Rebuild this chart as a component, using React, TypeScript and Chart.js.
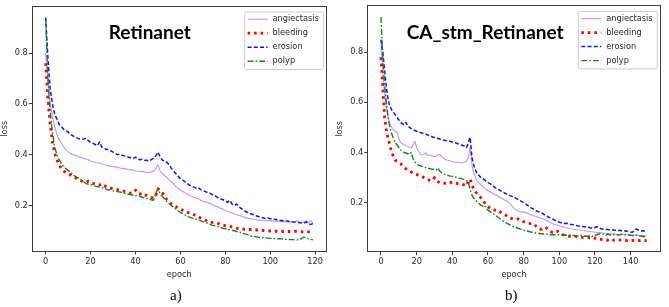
import { useEffect, useRef } from "react";
import { Chart, registerables } from "chart.js";

Chart.register(...registerables);

// ---------- DATA ----------
const seriesNames = ["angiectasis", "bleeding", "erosion", "polyp"];

// Panel a) Retinanet, epochs 0..119
const retAngiectasis = [
  0.80, 0.70, 0.60, 0.55, 0.51, 0.48, 0.46, 0.445, 0.43, 0.42,
  0.41, 0.405, 0.40, 0.398, 0.395, 0.39, 0.388, 0.385, 0.382, 0.38,
  0.375, 0.372, 0.37, 0.366, 0.368, 0.362, 0.36, 0.358, 0.356, 0.354,
  0.353, 0.352, 0.35, 0.348, 0.345, 0.346, 0.343, 0.341, 0.342, 0.339,
  0.336, 0.335, 0.333, 0.334, 0.331, 0.33, 0.33, 0.332, 0.335, 0.345,
  0.36, 0.335, 0.325, 0.318, 0.31, 0.30, 0.292, 0.285, 0.275, 0.268,
  0.26, 0.255, 0.25, 0.245, 0.24, 0.236, 0.232, 0.228, 0.226, 0.22,
  0.216, 0.214, 0.212, 0.208, 0.205, 0.20, 0.196, 0.192, 0.188, 0.185,
  0.18, 0.176, 0.173, 0.17, 0.166, 0.163, 0.16, 0.158, 0.155, 0.152,
  0.15, 0.148, 0.146, 0.145, 0.143, 0.142, 0.141, 0.14, 0.14, 0.139,
  0.14, 0.138, 0.138, 0.137, 0.138, 0.136, 0.137, 0.135, 0.136, 0.134,
  0.135, 0.133, 0.14, 0.132, 0.134, 0.133, 0.138, 0.132, 0.14, 0.13,
];
const retBleeding = [
  0.76, 0.62, 0.52, 0.45, 0.405, 0.38, 0.36, 0.345, 0.335, 0.33,
  0.326, 0.32, 0.315, 0.31, 0.305, 0.30, 0.296, 0.293, 0.29, 0.295,
  0.29, 0.287, 0.284, 0.282, 0.28, 0.285, 0.278, 0.274, 0.27, 0.268,
  0.266, 0.265, 0.262, 0.26, 0.258, 0.255, 0.253, 0.25, 0.248, 0.25,
  0.26, 0.248, 0.245, 0.248, 0.24, 0.24, 0.237, 0.232, 0.228, 0.24,
  0.266, 0.258, 0.25, 0.235, 0.222, 0.213, 0.205, 0.20, 0.195, 0.19,
  0.187, 0.18, 0.175, 0.172, 0.17, 0.166, 0.163, 0.16, 0.155, 0.15,
  0.146, 0.142, 0.138, 0.134, 0.133, 0.132, 0.13, 0.128, 0.125, 0.122,
  0.12, 0.118, 0.117, 0.115, 0.113, 0.11, 0.108, 0.107, 0.106, 0.106,
  0.105, 0.105, 0.105, 0.104, 0.103, 0.103, 0.102, 0.101, 0.10, 0.10,
  0.099, 0.099, 0.098, 0.098, 0.098, 0.098, 0.097, 0.098, 0.097, 0.097,
  0.097, 0.098, 0.097, 0.097, 0.096, 0.097, 0.097, 0.096, 0.097, 0.097,
];
const retErosion = [
  0.94, 0.78, 0.66, 0.60, 0.56, 0.54, 0.52, 0.51, 0.50, 0.495,
  0.49, 0.48, 0.475, 0.47, 0.465, 0.462, 0.46, 0.462, 0.465, 0.455,
  0.448, 0.445, 0.44, 0.435, 0.45, 0.43, 0.425, 0.42, 0.42, 0.415,
  0.41, 0.405, 0.40, 0.402, 0.398, 0.395, 0.392, 0.39, 0.388, 0.385,
  0.39, 0.383, 0.38, 0.382, 0.378, 0.378, 0.375, 0.38, 0.385, 0.395,
  0.41, 0.39, 0.378, 0.375, 0.37, 0.36, 0.345, 0.335, 0.325, 0.315,
  0.305, 0.30, 0.293, 0.287, 0.28, 0.275, 0.272, 0.268, 0.27, 0.262,
  0.258, 0.255, 0.25, 0.248, 0.243, 0.238, 0.235, 0.228, 0.225, 0.222,
  0.218, 0.212, 0.22, 0.205, 0.20, 0.205, 0.195, 0.188, 0.182, 0.176,
  0.172, 0.168, 0.165, 0.162, 0.158, 0.155, 0.152, 0.15, 0.148, 0.15,
  0.147, 0.148, 0.145, 0.143, 0.142, 0.14, 0.138, 0.14, 0.137, 0.136,
  0.135, 0.134, 0.135, 0.132, 0.131, 0.13, 0.135, 0.128, 0.125, 0.128,
];
const retPolyp = [
  0.93, 0.70, 0.57, 0.49, 0.43, 0.40, 0.38, 0.365, 0.352, 0.345,
  0.338, 0.33, 0.322, 0.315, 0.31, 0.305, 0.298, 0.292, 0.286, 0.283,
  0.282, 0.28, 0.276, 0.274, 0.272, 0.27, 0.268, 0.264, 0.26, 0.262,
  0.258, 0.255, 0.254, 0.253, 0.25, 0.248, 0.246, 0.244, 0.242, 0.24,
  0.238, 0.24, 0.236, 0.232, 0.23, 0.227, 0.225, 0.222, 0.22, 0.245,
  0.266, 0.245, 0.235, 0.225, 0.215, 0.207, 0.20, 0.192, 0.185, 0.178,
  0.172, 0.168, 0.163, 0.158, 0.154, 0.151, 0.148, 0.145, 0.142, 0.14,
  0.136, 0.133, 0.13, 0.126, 0.122, 0.12, 0.118, 0.116, 0.113, 0.11,
  0.108, 0.106, 0.104, 0.102, 0.10, 0.097, 0.095, 0.093, 0.09, 0.087,
  0.084, 0.081, 0.078, 0.077, 0.076, 0.074, 0.073, 0.072, 0.072, 0.071,
  0.07, 0.07, 0.069, 0.068, 0.069, 0.068, 0.067, 0.066, 0.066, 0.065,
  0.065, 0.064, 0.064, 0.064, 0.07, 0.075, 0.072, 0.068, 0.066, 0.064,
];

// Panel b) CA_stm_Retinanet, epochs 0..149
const caAngiectasis = [
  0.85, 0.72, 0.64, 0.58, 0.54, 0.515, 0.50, 0.49, 0.485, 0.48,
  0.455, 0.44, 0.435, 0.432, 0.428, 0.425, 0.42, 0.418, 0.43, 0.445,
  0.42, 0.405, 0.395, 0.39, 0.392, 0.398, 0.39, 0.388, 0.39, 0.385,
  0.383, 0.385, 0.39, 0.392, 0.384, 0.378, 0.372, 0.37, 0.368, 0.366,
  0.364, 0.362, 0.36, 0.362, 0.36, 0.358, 0.36, 0.362, 0.365, 0.38,
  0.42, 0.35, 0.32, 0.30, 0.285, 0.278, 0.272, 0.265, 0.258, 0.252,
  0.248, 0.244, 0.24, 0.236, 0.232, 0.228, 0.224, 0.22, 0.216, 0.212,
  0.208, 0.205, 0.198, 0.19, 0.182, 0.175, 0.17, 0.166, 0.164, 0.163,
  0.162, 0.16, 0.158, 0.155, 0.152, 0.15, 0.147, 0.145, 0.142, 0.14,
  0.138, 0.135, 0.132, 0.128, 0.124, 0.12, 0.117, 0.114, 0.112, 0.11,
  0.108, 0.106, 0.104, 0.102, 0.10, 0.098, 0.096, 0.095, 0.094, 0.093,
  0.092, 0.091, 0.09, 0.089, 0.088, 0.087, 0.086, 0.085, 0.084, 0.083,
  0.082, 0.081, 0.08, 0.08, 0.079, 0.078, 0.078, 0.077, 0.076, 0.076,
  0.075, 0.075, 0.074, 0.074, 0.073, 0.073, 0.072, 0.072, 0.071, 0.071,
  0.07, 0.07, 0.07, 0.072, 0.07, 0.069, 0.07, 0.069, 0.068, 0.068,
];
const caBleeding = [
  0.78, 0.66, 0.54, 0.49, 0.455, 0.43, 0.40, 0.385, 0.37, 0.365,
  0.36, 0.355, 0.348, 0.34, 0.335, 0.33, 0.327, 0.322, 0.318, 0.314,
  0.312, 0.31, 0.307, 0.305, 0.30, 0.296, 0.293, 0.29, 0.287, 0.29,
  0.30, 0.29, 0.283, 0.28, 0.28, 0.278, 0.277, 0.275, 0.278, 0.28,
  0.282, 0.28, 0.278, 0.276, 0.275, 0.274, 0.272, 0.27, 0.267, 0.285,
  0.294, 0.27, 0.255, 0.243, 0.235, 0.228, 0.22, 0.21, 0.20, 0.192,
  0.185, 0.178, 0.174, 0.172, 0.17, 0.172, 0.168, 0.162, 0.158, 0.154,
  0.15, 0.145, 0.14, 0.137, 0.135, 0.134, 0.133, 0.135, 0.13, 0.127,
  0.124, 0.122, 0.12, 0.118, 0.116, 0.115, 0.114, 0.105, 0.098, 0.095,
  0.094, 0.10, 0.102, 0.098, 0.09, 0.085, 0.082, 0.08, 0.084, 0.086,
  0.08, 0.075, 0.072, 0.07, 0.068, 0.067, 0.066, 0.066, 0.067, 0.066,
  0.065, 0.064, 0.063, 0.062, 0.062, 0.061, 0.062, 0.06, 0.06, 0.062,
  0.058, 0.055, 0.054, 0.054, 0.053, 0.052, 0.051, 0.05, 0.054, 0.056,
  0.052, 0.05, 0.05, 0.05, 0.051, 0.052, 0.05, 0.05, 0.049, 0.05,
  0.05, 0.05, 0.049, 0.05, 0.05, 0.049, 0.05, 0.05, 0.049, 0.05,
];
const caErosion = [
  0.85, 0.80, 0.73, 0.66, 0.61, 0.585, 0.57, 0.56, 0.55, 0.54,
  0.53, 0.52, 0.515, 0.51, 0.52, 0.505, 0.50, 0.495, 0.49, 0.488,
  0.485, 0.483, 0.48, 0.478, 0.476, 0.474, 0.47, 0.468, 0.465, 0.462,
  0.46, 0.458, 0.456, 0.454, 0.452, 0.45, 0.448, 0.447, 0.445, 0.444,
  0.442, 0.44, 0.438, 0.435, 0.432, 0.43, 0.428, 0.425, 0.42, 0.44,
  0.46, 0.38, 0.35, 0.33, 0.315, 0.308, 0.30, 0.296, 0.292, 0.285,
  0.28, 0.276, 0.272, 0.266, 0.26, 0.256, 0.252, 0.248, 0.244, 0.24,
  0.236, 0.232, 0.229, 0.226, 0.224, 0.22, 0.216, 0.212, 0.208, 0.204,
  0.20, 0.195, 0.19, 0.185, 0.18, 0.176, 0.172, 0.168, 0.165, 0.162,
  0.16, 0.155, 0.15, 0.146, 0.142, 0.138, 0.135, 0.132, 0.128, 0.125,
  0.122, 0.12, 0.118, 0.117, 0.118, 0.116, 0.114, 0.113, 0.112, 0.11,
  0.108, 0.107, 0.106, 0.105, 0.104, 0.103, 0.102, 0.10, 0.099, 0.098,
  0.10, 0.104, 0.102, 0.097, 0.095, 0.094, 0.093, 0.093, 0.092, 0.092,
  0.091, 0.09, 0.09, 0.089, 0.09, 0.088, 0.087, 0.088, 0.086, 0.085,
  0.083, 0.082, 0.09, 0.095, 0.092, 0.088, 0.087, 0.088, 0.086, 0.085,
];
const caPolyp = [
  0.94, 0.78, 0.67, 0.60, 0.54, 0.50, 0.475, 0.455, 0.44, 0.43,
  0.42, 0.41, 0.405, 0.40, 0.398, 0.395, 0.392, 0.40, 0.375, 0.362,
  0.355, 0.35, 0.347, 0.345, 0.343, 0.34, 0.338, 0.336, 0.335, 0.333,
  0.332, 0.33, 0.338, 0.325, 0.318, 0.315, 0.312, 0.31, 0.308, 0.306,
  0.305, 0.303, 0.302, 0.30, 0.298, 0.296, 0.294, 0.292, 0.288, 0.282,
  0.25, 0.23, 0.218, 0.21, 0.203, 0.197, 0.19, 0.186, 0.19, 0.178,
  0.17, 0.165, 0.16, 0.155, 0.15, 0.145, 0.14, 0.135, 0.13, 0.125,
  0.12, 0.116, 0.112, 0.108, 0.105, 0.102, 0.10, 0.098, 0.095, 0.093,
  0.09, 0.088, 0.087, 0.085, 0.083, 0.082, 0.08, 0.079, 0.078, 0.077,
  0.076, 0.075, 0.075, 0.074, 0.073, 0.072, 0.073, 0.072, 0.071, 0.072,
  0.073, 0.071, 0.07, 0.072, 0.07, 0.069, 0.07, 0.068, 0.069, 0.068,
  0.067, 0.068, 0.07, 0.067, 0.066, 0.067, 0.066, 0.068, 0.065, 0.066,
  0.07, 0.072, 0.075, 0.078, 0.076, 0.072, 0.07, 0.075, 0.073, 0.07,
  0.072, 0.073, 0.072, 0.071, 0.072, 0.074, 0.073, 0.072, 0.071, 0.072,
  0.07, 0.069, 0.068, 0.07, 0.071, 0.068, 0.066, 0.065, 0.064, 0.063,
];

const xTicksA = [0, 20, 40, 60, 80, 100, 120];
const xTicksB = [0, 20, 40, 60, 80, 100, 120, 140];
const yTicks = [0.2, 0.4, 0.6, 0.8];

// ---------- STYLES ----------
const TICK_FONT = "DejaVu Sans";
const FS = 8.2;
const FRAME = "#3d3d3d";
const TEXT = "#2a2a2a";

const seriesStyles = [
  { color: "#c39af7", width: 1.2, dash: [] as number[], cap: "butt" },
  { color: "#ff0000", width: 2.8, dash: [2.6, 3.9], cap: "butt" },
  { color: "#1010ff", width: 1.5, dash: [4, 2.2], cap: "butt" },
  { color: "#128a12", width: 1.4, dash: [6, 2, 1.6, 2], cap: "butt" },
];

type PanelCfg = {
  series: number[][];
  xTicks: number[];
  title: string;
  caption: string;
  canvasW: number;
  yAxisW: number;
  padRight: number;
  padTop: number;
  xAxisH: number;
  yTitlePad: number;
};

const decorPlugin = {
  id: "decor",
  afterDatasetsDraw(chart: any) {
    const { ctx, chartArea: a } = chart;
    const al = (p: number) => Math.round(p - 0.5) + 0.5;
    ctx.save();
    ctx.strokeStyle = FRAME;
    ctx.lineWidth = 1;
    ctx.setLineDash([]);
    const l = al(a.left), r = al(a.right), t = al(a.top), b = al(a.bottom);
    ctx.strokeRect(l, t, r - l, b - t);
    ctx.restore();
  },
  afterDraw(chart: any, _args: any, opts: any) {
    const { ctx, chartArea: a } = chart;
    ctx.save();
    // title inside plot
    ctx.fillStyle = "#000";
    ctx.font = "bold 19px Lato";
    ctx.textAlign = "center";
    ctx.textBaseline = "middle";
    ctx.fillText(opts.title, a.left + 117.5, a.top + 26.5);

    // legend
    const boxR = a.right - 3.2;
    const boxW = 79;
    const boxL = boxR - boxW;
    const boxT = a.top + 5;
    const boxH = 57.5;
    ctx.beginPath();
    if (ctx.roundRect) ctx.roundRect(boxL + 0.5, boxT + 0.5, boxW, boxH, 2);
    else ctx.rect(boxL + 0.5, boxT + 0.5, boxW, boxH);
    ctx.fillStyle = "rgba(255,255,255,0.85)";
    ctx.fill();
    ctx.strokeStyle = "#cccccc";
    ctx.lineWidth = 1;
    ctx.stroke();
    ctx.font = `${FS}px "${TICK_FONT}"`;
    ctx.textAlign = "left";
    ctx.textBaseline = "middle";
    seriesNames.forEach((name, i) => {
      const st = seriesStyles[i];
      const cy = boxT + 7.7 + i * 14;
      ctx.beginPath();
      ctx.strokeStyle = st.color;
      ctx.lineWidth = st.width;
      ctx.lineCap = st.cap;
      ctx.setLineDash(st.dash);
      ctx.moveTo(boxL + 3.5, cy);
      ctx.lineTo(boxL + 23.5, cy);
      ctx.stroke();
      ctx.setLineDash([]);
      ctx.fillStyle = TEXT;
      ctx.fillText(name, boxL + 28.5, cy);
    });

    // caption under the panel
    ctx.fillStyle = "#000";
    ctx.font = '15px "Liberation Serif"';
    ctx.textAlign = "center";
    ctx.textBaseline = "middle";
    ctx.fillText(opts.caption, a.left + 143.5, 296.5);
    ctx.restore();
  },
};

function Panel({ cfg, left }: { cfg: PanelCfg; left: number }) {
  const ref = useRef<HTMLCanvasElement>(null);
  useEffect(() => {
    const n = cfg.series[0].length;
    const all = cfg.series.flat();
    const lo = Math.min(...all);
    const hi = Math.max(...all);
    const yMin = lo - 0.05 * (hi - lo);
    const yMax = hi + 0.05 * (hi - lo);
    const xMin = -0.05 * (n - 1);
    const xMax = (n - 1) * 1.05;
    const font = { family: TICK_FONT, size: FS };
    const datasets = cfg.series.map((vals, i) => ({
      label: seriesNames[i],
      data: vals.map((v, k) => ({ x: k, y: v })),
      borderColor: seriesStyles[i].color,
      borderWidth: seriesStyles[i].width,
      borderDash: seriesStyles[i].dash,
      borderCapStyle: seriesStyles[i].cap,
      borderJoinStyle: "round",
      pointRadius: 0,
      fill: false,
      tension: 0,
      order: 3 - i,
    }));
    const chart = new Chart(ref.current!, {
      type: "line",
      data: { datasets },
      plugins: [decorPlugin],
      options: {
        animation: false,
        responsive: false,
        maintainAspectRatio: false,
        layout: { padding: { left: 0, right: cfg.padRight, top: cfg.padTop, bottom: 0 } },
        plugins: {
          legend: { display: false },
          tooltip: { enabled: false },
          decor: { title: cfg.title, caption: cfg.caption },
        },
        scales: {
          x: {
            type: "linear",
            min: xMin,
            max: xMax,
            afterBuildTicks: (s: any) => {
              s.ticks = cfg.xTicks.map((v) => ({ value: v }));
            },
            afterFit: (s: any) => {
              s.height = cfg.xAxisH;
            },
            grid: { drawOnChartArea: false, drawTicks: true, tickLength: 3.5, color: FRAME, lineWidth: 1 },
            border: { display: true, color: FRAME, width: 1 },
            ticks: {
              font,
              color: TEXT,
              padding: 2,
              maxRotation: 0,
              autoSkip: false,
              callback: (v: any) => String(v),
            },
            title: { display: true, text: "epoch", font, color: TEXT, padding: { top: 0, bottom: 27 } },
          },
          y: {
            type: "linear",
            min: yMin,
            max: yMax,
            afterBuildTicks: (s: any) => {
              s.ticks = yTicks.map((v) => ({ value: v }));
            },
            afterFit: (s: any) => {
              s.width = cfg.yAxisW;
            },
            grid: { drawOnChartArea: false, drawTicks: true, tickLength: 3.5, color: FRAME, lineWidth: 1 },
            border: { display: true, color: FRAME, width: 1 },
            ticks: {
              font,
              color: TEXT,
              padding: 1,
              autoSkip: false,
              callback: (v: any) => Number(v).toFixed(1),
            },
            title: { display: true, text: "loss", font, color: TEXT, padding: { top: cfg.yTitlePad, bottom: 0 } },
          },
        },
      },
    } as any);
    return () => chart.destroy();
  }, [cfg]);
  return (
    <div style={{ position: "absolute", left, top: 0, width: cfg.canvasW, height: 307 }}>
      <canvas ref={ref} width={cfg.canvasW} height={307} style={{ width: cfg.canvasW, height: 307, display: "block" }} />
    </div>
  );
}

const panelA: PanelCfg = {
  series: [retAngiectasis, retBleeding, retErosion, retPolyp],
  xTicks: xTicksA,
  title: "Retinanet",
  caption: "a)",
  canvasW: 334,
  yAxisW: 32.3,
  padRight: 7.7,
  padTop: 6.5,
  xAxisH: 56,
  yTitlePad: 0,
};

const panelB: PanelCfg = {
  series: [caAngiectasis, caBleeding, caErosion, caPolyp],
  xTicks: xTicksB,
  title: "CA_stm_Retinanet",
  caption: "b)",
  canvasW: 335,
  yAxisW: 33.7,
  padRight: 9,
  padTop: 5.7,
  xAxisH: 55.3,
  yTitlePad: 1,
};

export default function App() {
  return (
    <div style={{ position: "absolute", left: 0, top: 0, width: 669, height: 307, background: "#fff", overflow: "hidden" }}>
      <Panel cfg={panelA} left={0} />
      <Panel cfg={panelB} left={334} />
    </div>
  );
}
